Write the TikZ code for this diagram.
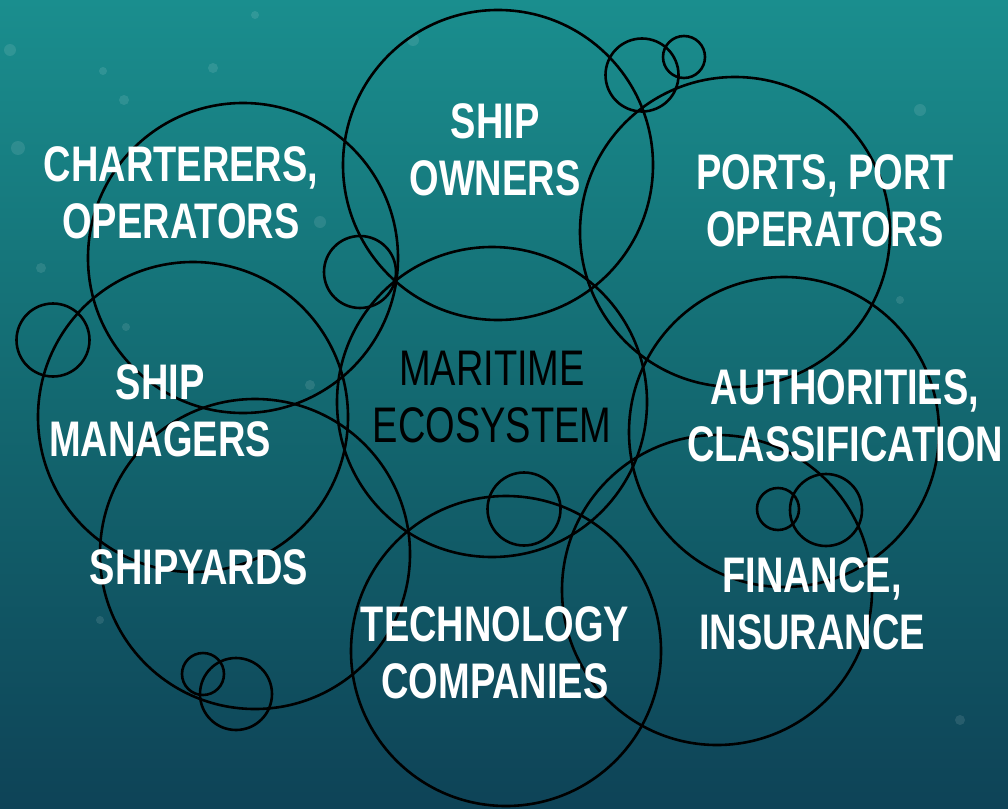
\documentclass[tikz,border=0pt]{standalone}
\usepackage{fontspec}
\newfontfamily\lblfont[FakeStretch=0.76]{Liberation Sans}
\definecolor{seatop}{HTML}{1A8E8E}
\definecolor{seamid}{HTML}{136870}
\definecolor{seabot}{HTML}{0E4357}
\tikzset{
  ring/.style={circle, draw=black, line width=2.6pt, inner sep=0pt, outer sep=0pt, minimum size=#1},
  bigring/.style={ring=310pt},
  lbl/.style={text=white, align=center, inner sep=0pt, font={\lblfont\bfseries\fontsize{50}{57}\selectfont}},
  centrelbl/.style={text=black, align=center, inner sep=0pt, font={\lblfont\fontsize{50}{57}\selectfont}},
  bubble/.style={circle, fill=white, opacity=0.1, inner sep=0pt}
}
\begin{document}
\begin{tikzpicture}[x=1pt,y=-1pt]
\useasboundingbox (0,0) rectangle (1008,808);
\shade[top color=seatop, bottom color=seabot, middle color=seamid] (0,0) rectangle (1008,808);
% faint bubbles
\foreach \px/\py/\r in {10/50/6, 103/71/4, 124/100/5, 18/148/7, 413/40/6, 320/222/6, 41/268/5, 126/327/4, 213/68/5, 920/110/6, 255/15/4, 310/385/5, 900/300/4, 960/720/5, 100/620/4}
  \node[bubble, minimum size=2*\r pt] at (\px,\py) {};
% big rings
\node[bigring] (owners) at (498,165) {};
\node[bigring] (charterers) at (243,258) {};
\node[bigring] (ports) at (735,232) {};
\node[bigring] (managers) at (193,417) {};
\node[bigring] (authorities) at (784,432) {};
\node[bigring] (centre) at (492,402) {};
\node[bigring] (shipyards) at (255,554) {};
\node[bigring] (finance) at (717,590) {};
\node[bigring] (technology) at (506,651) {};
% small rings
\node[ring=73pt] (s1) at (642,75) {};
\node[ring=42pt] (s2) at (684,57) {};
\node[ring=73pt] (s3) at (53,340) {};
\node[ring=72pt] (s4) at (360,272) {};
\node[ring=73pt] (s5) at (524,509) {};
\node[ring=42pt] (s6) at (778,509) {};
\node[ring=72pt] (s7) at (826,510) {};
\node[ring=42pt] (s8) at (203,674) {};
\node[ring=72pt] (s9) at (236,694) {};
% labels
\node[lbl] (tOwners) at (495,150) {SHIP\\OWNERS};
\node[lbl] (tCharterers) at (181,193) {CHARTERERS,\\OPERATORS};
\node[lbl] (tPorts) at (825,201) {PORTS, PORT\\OPERATORS};
\node[centrelbl] (tCentre) at (492,397) {MARITIME\\ECOSYSTEM};
\node[lbl] (tManagers) at (160,411) {SHIP\\MANAGERS};
\node[lbl] (tAuthorities) at (845,416) {AUTHORITIES,\\CLASSIFICATION};
\node[lbl] (tShipyards) at (199,567) {SHIPYARDS};
\node[lbl] (tFinance) at (812,604) {FINANCE,\\INSURANCE};
\node[lbl] (tTechnology) at (495,653) {TECHNOLOGY\\COMPANIES};
\end{tikzpicture}
\end{document}
